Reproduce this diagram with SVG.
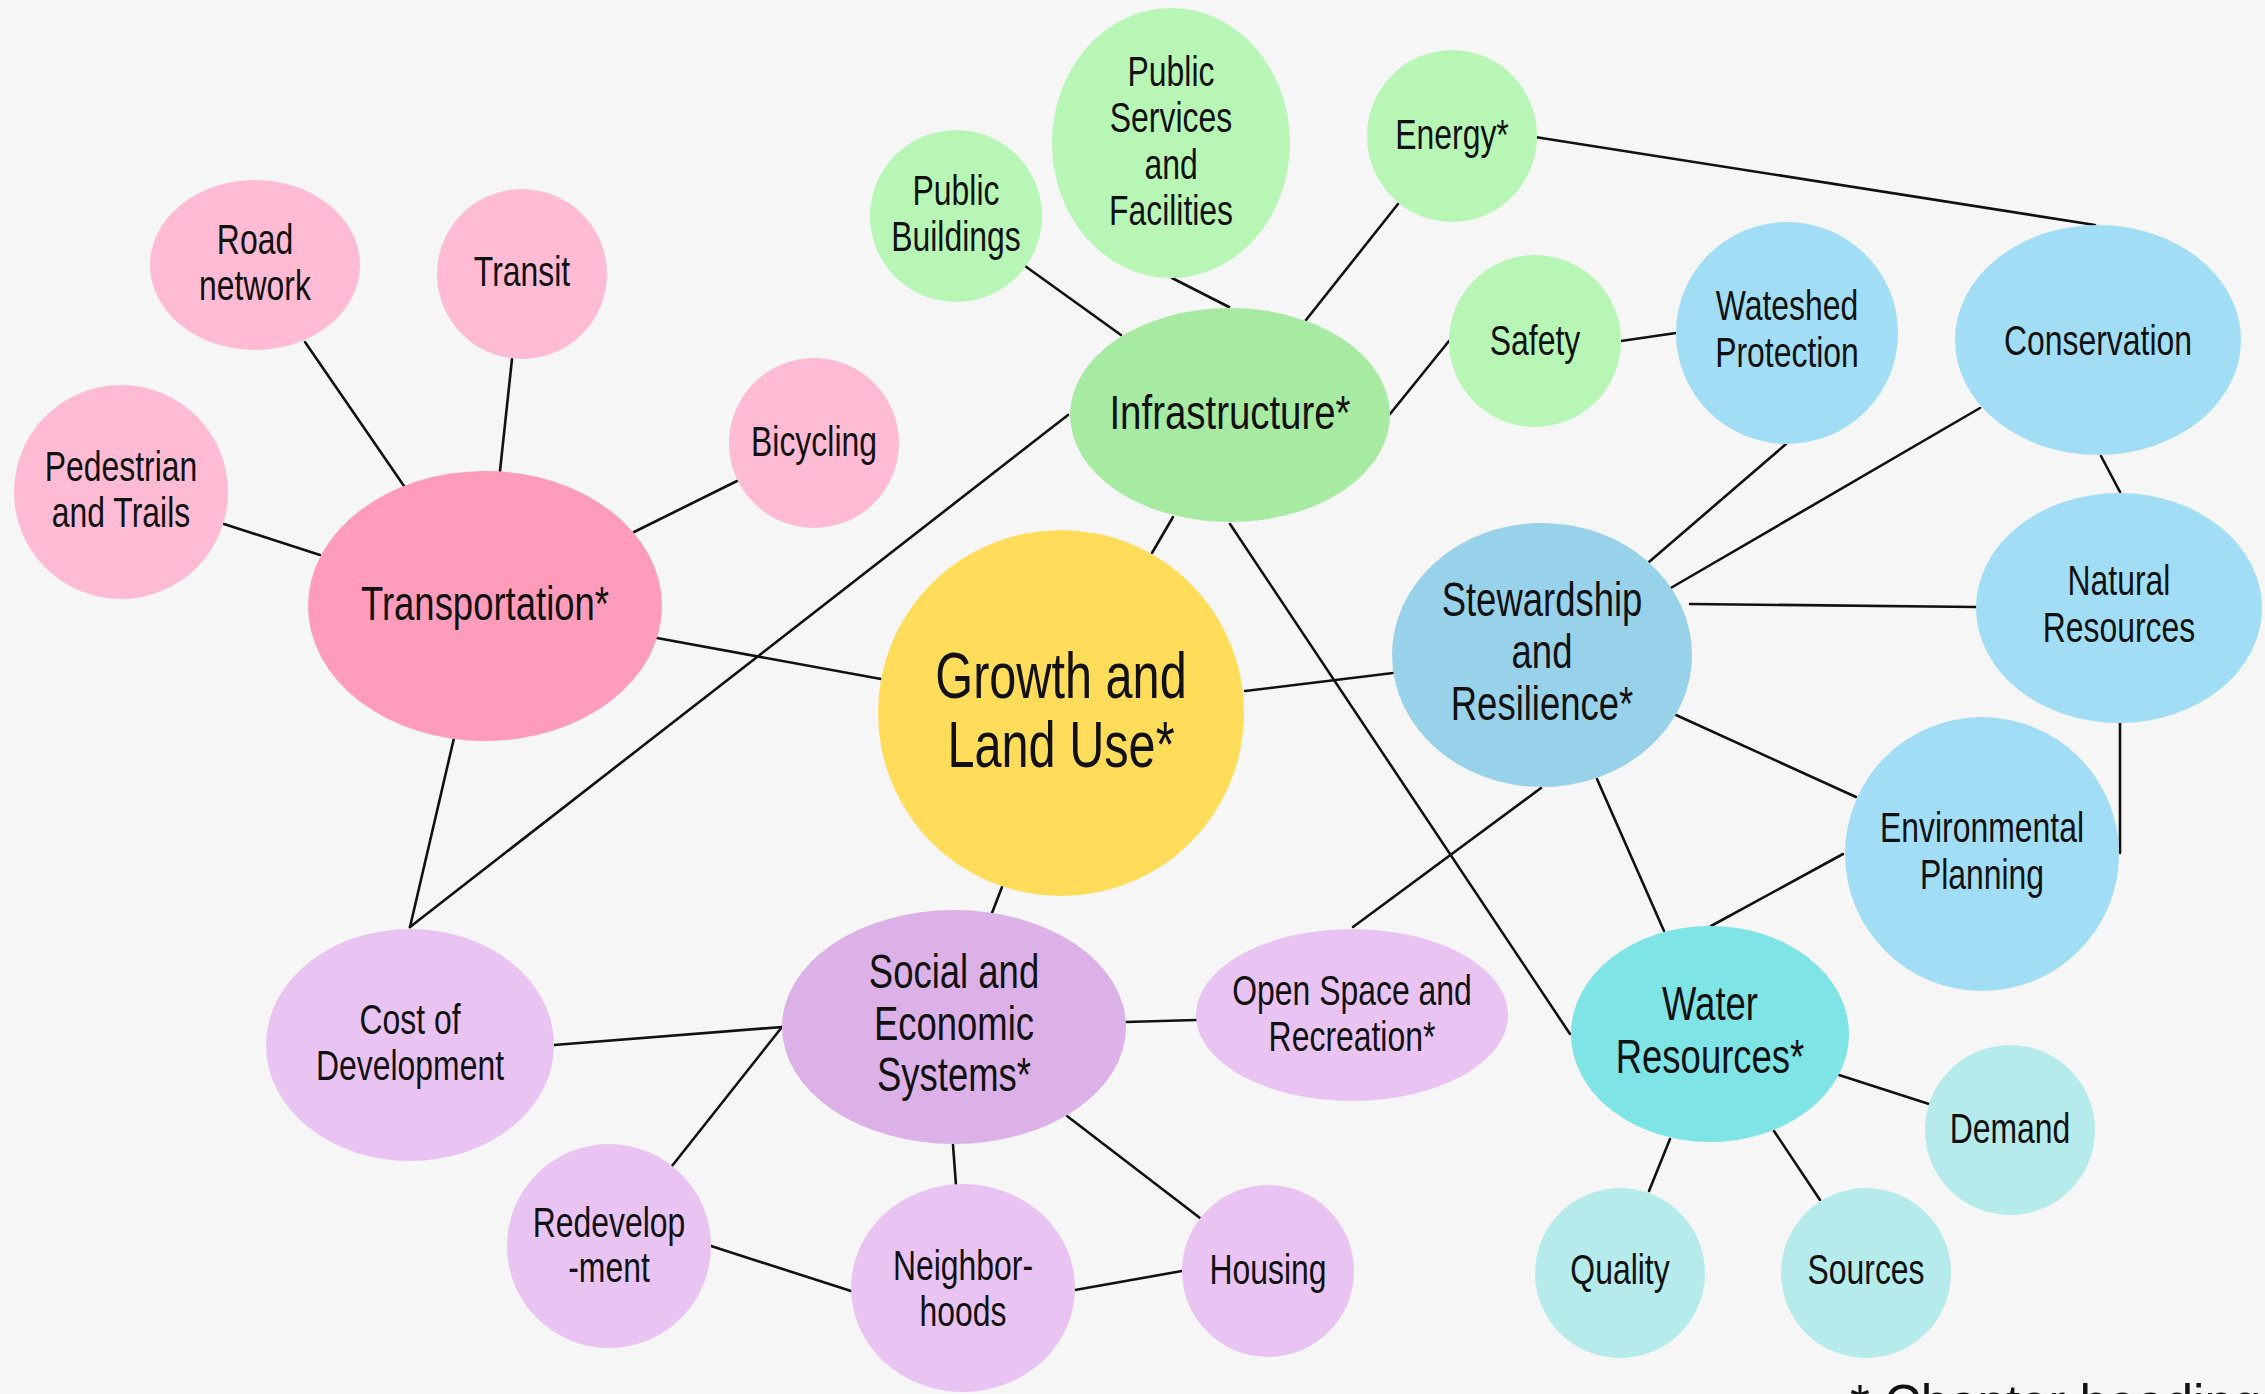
<svg xmlns="http://www.w3.org/2000/svg" width="2265" height="1394" viewBox="0 0 2265 1394">
<style>
.bg{fill:#f6f6f6}
.edge{stroke:#111;stroke-width:2.6;fill:none;stroke-linecap:round}
.pl{fill:#ffbbd3}.pd{fill:#ff9cbc}
.gl{fill:#b7f6b5}.gd{fill:#a7eba3}
.bl{fill:#a1def5}.bd{fill:#98d1ea}
.yl{fill:#ffdd5b}
.tl{fill:#b5ebeb}.td{fill:#7fe4e6}
.ul{fill:#e9c4f3}.ud{fill:#dcb1e8}
text{font-family:"Liberation Sans",Arial,sans-serif;fill:#111;text-anchor:middle}
.s{font-size:42px}.m{font-size:48px}.l{font-size:64px}
.foot{font-size:51px;text-anchor:start}
</style>
<rect class="bg" x="0" y="0" width="2265" height="1394"/>
<g id="connectors">
<line class="edge" x1="305" y1="342" x2="404" y2="486"/>
<line class="edge" x1="512" y1="359" x2="500" y2="471"/>
<line class="edge" x1="224" y1="524" x2="320" y2="555"/>
<line class="edge" x1="737" y1="481" x2="634" y2="532"/>
<line class="edge" x1="657" y1="638" x2="881" y2="679"/>
<line class="edge" x1="454" y1="738" x2="410" y2="927"/>
<line class="edge" x1="1068" y1="415" x2="410" y2="927"/>
<line class="edge" x1="1025" y1="266" x2="1121" y2="335"/>
<line class="edge" x1="1172" y1="278" x2="1229" y2="307"/>
<line class="edge" x1="1398" y1="204" x2="1306" y2="320"/>
<line class="edge" x1="1390" y1="414" x2="1449" y2="341"/>
<line class="edge" x1="1535" y1="137" x2="2095" y2="225"/>
<line class="edge" x1="1173" y1="517" x2="1152" y2="553"/>
<line class="edge" x1="1230" y1="524" x2="1570" y2="1034"/>
<line class="edge" x1="1621" y1="341" x2="1676" y2="333"/>
<line class="edge" x1="1786" y1="444" x2="1649" y2="562"/>
<line class="edge" x1="1980" y1="408" x2="1669" y2="589"/>
<line class="edge" x1="2101" y1="456" x2="2120" y2="492"/>
<line class="edge" x1="1690" y1="604" x2="1976" y2="607"/>
<line class="edge" x1="1245" y1="691" x2="1393" y2="673"/>
<line class="edge" x1="1676" y1="715" x2="1856" y2="797"/>
<line class="edge" x1="2120" y1="723" x2="2120" y2="853"/>
<line class="edge" x1="1541" y1="788" x2="1353" y2="927"/>
<line class="edge" x1="1597" y1="779" x2="1664" y2="931"/>
<line class="edge" x1="1843" y1="854" x2="1711" y2="926"/>
<line class="edge" x1="1839" y1="1075" x2="1929" y2="1104"/>
<line class="edge" x1="1670" y1="1139" x2="1649" y2="1191"/>
<line class="edge" x1="1774" y1="1131" x2="1820" y2="1200"/>
<line class="edge" x1="1002" y1="887" x2="992" y2="913"/>
<line class="edge" x1="1126" y1="1022" x2="1196" y2="1020"/>
<line class="edge" x1="554" y1="1045" x2="782" y2="1027"/>
<line class="edge" x1="782" y1="1027" x2="672" y2="1166"/>
<line class="edge" x1="953" y1="1145" x2="956" y2="1185"/>
<line class="edge" x1="1067" y1="1116" x2="1200" y2="1218"/>
<line class="edge" x1="711" y1="1246" x2="851" y2="1291"/>
<line class="edge" x1="1075" y1="1290" x2="1182" y2="1271"/>
</g>
<g id="road-network"><ellipse class="pl" cx="255" cy="265" rx="105" ry="85"/><g transform="translate(255,0) scale(0.76,1)"><text class="s" x="0" y="254">Road</text><text class="s" x="0" y="300">network</text></g></g>
<g id="transit"><ellipse class="pl" cx="522" cy="274" rx="85" ry="85"/><g transform="translate(522,0) scale(0.76,1)"><text class="s" x="0" y="286">Transit</text></g></g>
<g id="pedestrian"><ellipse class="pl" cx="121" cy="492" rx="107" ry="107"/><g transform="translate(121,0) scale(0.76,1)"><text class="s" x="0" y="481">Pedestrian</text><text class="s" x="0" y="527">and Trails</text></g></g>
<g id="bicycling"><ellipse class="pl" cx="814" cy="443" rx="85" ry="85"/><g transform="translate(814,0) scale(0.76,1)"><text class="s" x="0" y="456">Bicycling</text></g></g>
<g id="transportation"><ellipse class="pd" cx="485" cy="606" rx="177" ry="135"/><g transform="translate(485,0) scale(0.76,1)"><text class="m" x="0" y="620">Transportation*</text></g></g>
<g id="public-buildings"><ellipse class="gl" cx="956" cy="216" rx="86" ry="86"/><g transform="translate(956,0) scale(0.76,1)"><text class="s" x="0" y="205">Public</text><text class="s" x="0" y="251">Buildings</text></g></g>
<g id="public-services"><ellipse class="gl" cx="1171" cy="143" rx="119" ry="135"/><g transform="translate(1171,0) scale(0.76,1)"><text class="s" x="0" y="86">Public</text><text class="s" x="0" y="132">Services</text><text class="s" x="0" y="179">and</text><text class="s" x="0" y="225">Facilities</text></g></g>
<g id="energy"><ellipse class="gl" cx="1452" cy="136" rx="85" ry="86"/><g transform="translate(1452,0) scale(0.76,1)"><text class="s" x="0" y="149">Energy*</text></g></g>
<g id="infrastructure"><ellipse class="gd" cx="1230" cy="415" rx="160" ry="107"/><g transform="translate(1230,0) scale(0.8,1)"><text class="m" x="0" y="429">Infrastructure*</text></g></g>
<g id="safety"><ellipse class="gl" cx="1535" cy="341" rx="86" ry="86"/><g transform="translate(1535,0) scale(0.76,1)"><text class="s" x="0" y="355">Safety</text></g></g>
<g id="wateshed-protection"><ellipse class="bl" cx="1787" cy="333" rx="111" ry="111"/><g transform="translate(1787,0) scale(0.76,1)"><text class="s" x="0" y="320">Wateshed</text><text class="s" x="0" y="367">Protection</text></g></g>
<g id="conservation"><ellipse class="bl" cx="2098" cy="340" rx="143" ry="115"/><g transform="translate(2098,0) scale(0.76,1)"><text class="s" x="0" y="355">Conservation</text></g></g>
<g id="natural-resources"><ellipse class="bl" cx="2119" cy="608" rx="143" ry="115"/><g transform="translate(2119,0) scale(0.76,1)"><text class="s" x="0" y="595">Natural</text><text class="s" x="0" y="642">Resources</text></g></g>
<g id="stewardship"><ellipse class="bd" cx="1542" cy="655" rx="150" ry="132"/><g transform="translate(1542,0) scale(0.76,1)"><text class="m" x="0" y="616">Stewardship</text><text class="m" x="0" y="668">and</text><text class="m" x="0" y="720">Resilience*</text></g></g>
<g id="environmental-planning"><ellipse class="bl" cx="1982" cy="854" rx="137" ry="137"/><g transform="translate(1982,0) scale(0.76,1)"><text class="s" x="0" y="842">Environmental</text><text class="s" x="0" y="889">Planning</text></g></g>
<g id="growth"><ellipse class="yl" cx="1061" cy="713" rx="183" ry="183"/><g transform="translate(1061,0) scale(0.76,1)"><text class="l" x="0" y="698">Growth and</text><text class="l" x="0" y="767">Land Use*</text></g></g>
<g id="water-resources"><ellipse class="td" cx="1710" cy="1034" rx="139" ry="108"/><g transform="translate(1710,0) scale(0.76,1)"><text class="m" x="0" y="1020">Water</text><text class="m" x="0" y="1073">Resources*</text></g></g>
<g id="demand"><ellipse class="tl" cx="2010" cy="1130" rx="85" ry="85"/><g transform="translate(2010,0) scale(0.76,1)"><text class="s" x="0" y="1143">Demand</text></g></g>
<g id="quality"><ellipse class="tl" cx="1620" cy="1273" rx="85" ry="85"/><g transform="translate(1620,0) scale(0.76,1)"><text class="s" x="0" y="1284">Quality</text></g></g>
<g id="sources"><ellipse class="tl" cx="1866" cy="1273" rx="85" ry="85"/><g transform="translate(1866,0) scale(0.76,1)"><text class="s" x="0" y="1284">Sources</text></g></g>
<g id="open-space"><ellipse class="ul" cx="1352" cy="1015" rx="156" ry="86"/><g transform="translate(1352,0) scale(0.76,1)"><text class="s" x="0" y="1005">Open Space and</text><text class="s" x="0" y="1051">Recreation*</text></g></g>
<g id="social-economic"><ellipse class="ud" cx="954" cy="1027" rx="172" ry="117"/><g transform="translate(954,0) scale(0.76,1)"><text class="m" x="0" y="988">Social and</text><text class="m" x="0" y="1040">Economic</text><text class="m" x="0" y="1091">Systems*</text></g></g>
<g id="cost-of-development"><ellipse class="ul" cx="410" cy="1045" rx="144" ry="116"/><g transform="translate(410,0) scale(0.76,1)"><text class="s" x="0" y="1034">Cost of</text><text class="s" x="0" y="1080">Development</text></g></g>
<g id="redevelopment"><ellipse class="ul" cx="609" cy="1246" rx="102" ry="102"/><g transform="translate(609,0) scale(0.76,1)"><text class="s" x="0" y="1237">Redevelop</text><text class="s" x="0" y="1282">-ment</text></g></g>
<g id="neighborhoods"><ellipse class="ul" cx="963" cy="1288" rx="112" ry="104"/><g transform="translate(963,0) scale(0.76,1)"><text class="s" x="0" y="1280">Neighbor-</text><text class="s" x="0" y="1326">hoods</text></g></g>
<g id="housing"><ellipse class="ul" cx="1268" cy="1271" rx="86" ry="86"/><g transform="translate(1268,0) scale(0.76,1)"><text class="s" x="0" y="1284">Housing</text></g></g>
<text class="foot" x="1850" y="1421">* Chapter heading</text>
</svg>
